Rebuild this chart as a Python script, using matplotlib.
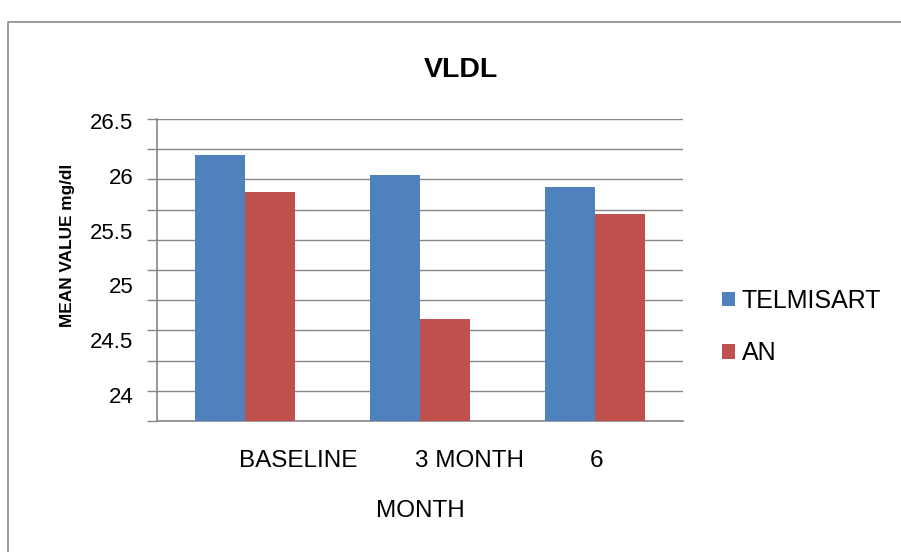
import matplotlib
matplotlib.use("Agg")
import matplotlib.pyplot as plt
from matplotlib.patches import Rectangle
import numpy as np

plt.rcParams['font.family'] = ['Liberation Sans', 'DejaVu Sans']

# data
months = ["BASELINE", "3 MONTH", "6"]
telmisart = [26.19, 26.01, 25.90]
an = [25.85, 24.69, 25.65]
series_names = ["TELMISART", "AN"]
ytick_vals = [24, 24.5, 25, 25.5, 26, 26.5]

blue = "#4F81BD"
red = "#C0504D"
grid_col = "#868686"

fig = plt.figure(figsize=(9.01, 5.52), dpi=100)
ax = fig.add_axes([157/901, 1-421/552, 526/901, 302/552])

x = np.arange(len(months))
w = 0.2857
ax.bar(x - w/2, telmisart, width=w, color=blue, label=series_names[0], zorder=3)
ax.bar(x + w/2, an, width=w, color=red, label=series_names[1], zorder=3)

ymin, ymax = 23.762, 26.52
ax.set_ylim(ymin, ymax)
ax.set_xlim(-0.5, 2.5)

# gridlines don't line up with the labels in the original, so use minor ticks for them
grid_pos = np.linspace(ymin, ymax, 11)
ax.set_yticks(grid_pos, minor=True)
ax.set_yticks(ytick_vals)
ax.set_yticklabels([("%g" % v) for v in ytick_vals], fontsize=16)
ax.tick_params(axis='y', which='major', length=0, pad=17)
ax.tick_params(axis='y', which='minor', length=7, width=1, color=grid_col, direction='out')
ax.yaxis.grid(True, which='minor', color=grid_col, linewidth=1.0, zorder=0)
ax.yaxis.grid(False, which='major')

ax.set_xticks(x - 0.03)
ax.set_xticklabels(months, fontsize=17.5, ha='left')
ax.tick_params(axis='x', length=0, pad=21)

for s in ["top", "right"]:
    ax.spines[s].set_visible(False)
for s in ["left", "bottom"]:
    ax.spines[s].set_color(grid_col)
    ax.spines[s].set_linewidth(1.2)

ax.set_xlabel("MONTH", fontsize=17.5, labelpad=20)
ax.set_ylabel("MEAN VALUE mg/dl", fontsize=12.4, fontweight='bold')
ax.yaxis.set_label_coords(-0.156, 0.583)

fig.text(461/901, 1-70/552, "VLDL", fontsize=20.5, fontweight='bold', ha='center', va='center')

ax.legend(loc='upper left', bbox_to_anchor=(722/901, 1-289/552), bbox_transform=fig.transFigure,
          frameon=False, fontsize=18, borderpad=0, borderaxespad=0, handlelength=0.52,
          handleheight=0.52, handletextpad=0.28, labelspacing=1.13)

# outer chart frame
fig.patches.append(Rectangle((8/901, -0.1), 1.2, 1-22/552+0.1, transform=fig.transFigure,
                             fill=False, edgecolor="#8c8c8c", linewidth=1.2))

fig.savefig("out.png", dpi=100)
